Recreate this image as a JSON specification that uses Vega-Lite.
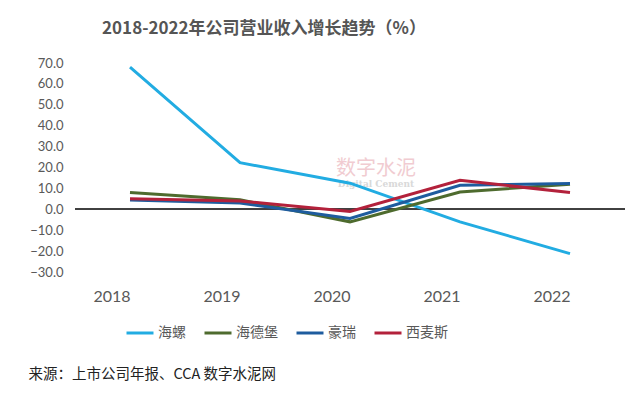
{
  "$schema": "https://vega.github.io/schema/vega-lite/v6.json",
  "autosize": "none",
  "width": 550,
  "height": 209,
  "padding": {"left": 75, "top": 63, "right": 14, "bottom": 125},
  "background": "white",
  "title": {
    "text": "2018-2022年公司营业收入增长趋势（%）",
    "font": "Noto Sans CJK SC",
    "fontSize": 17,
    "fontWeight": "bold",
    "color": "#555555",
    "anchor": "middle",
    "dx": -86,
    "offset": 19
  },
  "data": {
    "values": [
      {"year": "2018", "company": "海螺", "value": 68.0},
      {"year": "2019", "company": "海螺", "value": 22.3},
      {"year": "2020", "company": "海螺", "value": 12.5},
      {"year": "2021", "company": "海螺", "value": -6.0},
      {"year": "2022", "company": "海螺", "value": -21.2},
      {"year": "2018", "company": "海德堡", "value": 8.0},
      {"year": "2019", "company": "海德堡", "value": 4.6},
      {"year": "2020", "company": "海德堡", "value": -6.0},
      {"year": "2021", "company": "海德堡", "value": 8.3},
      {"year": "2022", "company": "海德堡", "value": 12.0},
      {"year": "2018", "company": "豪瑞", "value": 4.5},
      {"year": "2019", "company": "豪瑞", "value": 3.0},
      {"year": "2020", "company": "豪瑞", "value": -4.4},
      {"year": "2021", "company": "豪瑞", "value": 11.5},
      {"year": "2022", "company": "豪瑞", "value": 12.3},
      {"year": "2018", "company": "西麦斯", "value": 5.1},
      {"year": "2019", "company": "西麦斯", "value": 4.0},
      {"year": "2020", "company": "西麦斯", "value": -1.0},
      {"year": "2021", "company": "西麦斯", "value": 13.9},
      {"year": "2022", "company": "西麦斯", "value": 8.0}
    ]
  },
  "layer": [
    {
      "data": {"values": [{"label": "数字水泥"}]},
      "mark": {"type": "text", "font": "Noto Sans CJK SC", "fontSize": 20, "color": "#eebfc6", "opacity": 0.8, "dx": 26},
      "encoding": {
        "x": {"datum": "2020", "type": "ordinal"},
        "y": {"datum": 19.5, "type": "quantitative", "axis": {"values": [-30, -20, -10, 0, 10, 20, 30, 40, 50, 60, 70], "format": ".1f", "labelOverlap": false, "labelFont": "Lato", "labelFontSize": 13, "labelColor": "#595959", "labelPadding": 12, "domain": false, "ticks": false, "gridColor": "#dcdcdc", "gridWidth": 1, "title": null}},
        "text": {"field": "label"}
      }
    },
    {
      "data": {"values": [{"label": "Digital Cement"}]},
      "mark": {"type": "text", "font": "DejaVu Serif", "fontSize": 9, "fontWeight": "bold", "color": "#d0d0d0", "opacity": 0.8, "dx": 26},
      "encoding": {
        "x": {"datum": "2020", "type": "ordinal"},
        "y": {"datum": 12, "type": "quantitative", "axis": {"values": [-30, -20, -10, 0, 10, 20, 30, 40, 50, 60, 70], "format": ".1f", "labelOverlap": false, "labelFont": "Lato", "labelFontSize": 13, "labelColor": "#595959", "labelPadding": 12, "domain": false, "ticks": false, "gridColor": "#dcdcdc", "gridWidth": 1, "title": null}},
        "text": {"field": "label"}
      }
    },
    {
      "mark": {"type": "rule", "color": "#404040", "strokeWidth": 1},
      "encoding": {"y": {"datum": 0, "type": "quantitative", "axis": {"values": [-30, -20, -10, 0, 10, 20, 30, 40, 50, 60, 70], "format": ".1f", "labelOverlap": false, "labelFont": "Lato", "labelFontSize": 13, "labelColor": "#595959", "labelPadding": 12, "domain": false, "ticks": false, "gridColor": "#dcdcdc", "gridWidth": 1, "title": null}}}
    },
    {
      "mark": {"type": "line", "strokeWidth": 3},
      "encoding": {
        "x": {
          "field": "year",
          "type": "ordinal",
          "scale": {"type": "point", "padding": 0.5},
          "axis": {
            "labelAngle": 0,
            "labelFont": "Lato",
            "labelFontSize": 16,
            "labelColor": "#595959",
            "labelPadding": 24,
            "domain": false,
            "ticks": false,
            "grid": false,
            "title": "来源：上市公司年报、CCA 数字水泥网",
            "titleFont": "Noto Sans CJK SC",
            "titleFontSize": 14.5,
            "titleFontWeight": "normal",
            "titleColor": "#222222",
            "titleAnchor": "start",
            "titleAlign": "left",
            "titleBaseline": "alphabetic",
            "titleX": -47,
            "titleY": 106
          }
        },
        "y": {
          "field": "value",
          "type": "quantitative",
          "scale": {"domain": [-30, 70], "nice": false},
          "axis": {"values": [-30, -20, -10, 0, 10, 20, 30, 40, 50, 60, 70], "format": ".1f", "labelOverlap": false, "labelFont": "Lato", "labelFontSize": 13, "labelColor": "#595959", "labelPadding": 12, "domain": false, "ticks": false, "gridColor": "#dcdcdc", "gridWidth": 1, "title": null}
        },
        "color": {
          "field": "company",
          "type": "nominal",
          "sort": ["海螺", "海德堡", "豪瑞", "西麦斯"],
          "scale": {
            "domain": ["海螺", "海德堡", "豪瑞", "西麦斯"],
            "range": ["#22ACE2", "#4E6B2E", "#1E5C9E", "#B3213B"]
          },
          "legend": {
            "orient": "none",
            "legendX": 50,
            "legendY": 255,
            "direction": "horizontal",
            "title": null,
            "symbolType": "stroke",
            "symbolSize": 729,
            "symbolStrokeWidth": 3,
            "labelFont": "Noto Sans CJK SC",
            "labelFontSize": 14,
            "labelColor": "#595959",
            "labelOffset": 3,
            "columnPadding": 12
          }
        }
      }
    }
  ],
  "config": {"view": {"stroke": null}, "axis": {"labelOverlap": false}}
}
